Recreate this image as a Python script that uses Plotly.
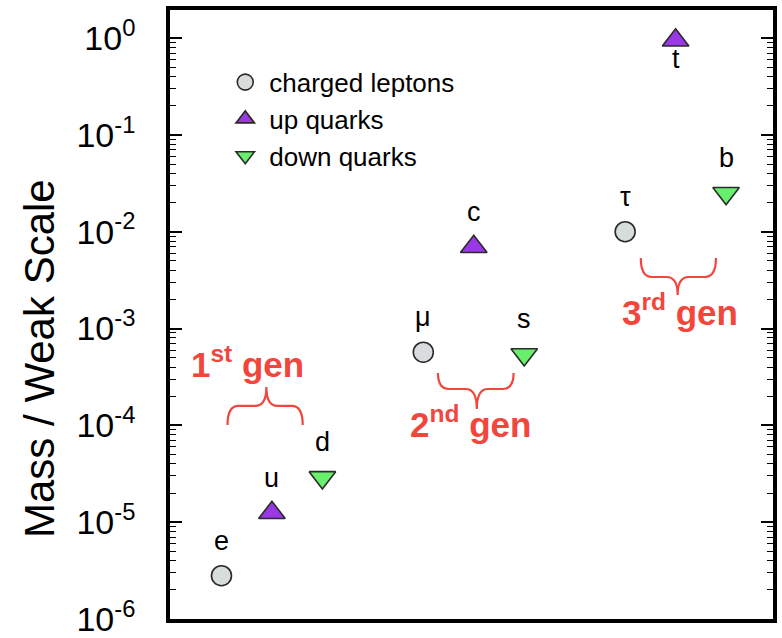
import numpy as np
import plotly.graph_objects as go

# ---------------- data ----------------
series_names = ["charged leptons", "up quarks", "down quarks"]

lepton_x = [1, 5, 9]
lepton_y = [2.8e-6, 5.7e-4, 1.0e-2]
lepton_labels = ["e", "μ", "τ"]

up_x = [2, 6, 10]
up_y = [1.25e-5, 7.0e-3, 0.95]
up_labels = ["u", "c", "t"]

down_x = [3, 7, 11]
down_y = [2.9e-5, 5.4e-4, 2.5e-2]
down_labels = ["d", "s", "b"]

tick_vals = [1e-6, 1e-5, 1e-4, 1e-3, 1e-2, 1e-1, 1e0]
tick_text = ["10<sup>-6</sup>", "10<sup>-5</sup>", "10<sup>-4</sup>", "10<sup>-3</sup>",
             "10<sup>-2</sup>", "10<sup>-1</sup>", "10<sup>0</sup>"]

gen_labels = ["1<sup>st</sup> gen", "2<sup>nd</sup> gen", "3<sup>rd</sup> gen"]
y_title = "Mass / Weak Scale"

# ---------------- style ----------------
FONT = "Liberation Sans, Arial, Helvetica, sans-serif"
RED = "#f2463c"

fig = go.Figure()

styles = [
    dict(symbol="circle", size=20, color="#d9dcdc"),
    dict(symbol="triangle-up", size=23, color="#9b38e6"),
    dict(symbol="triangle-down", size=23, color="#68f06c"),
]
series = [(lepton_x, lepton_y, lepton_labels),
          (up_x, up_y, up_labels),
          (down_x, down_y, down_labels)]

for name, (xs, ys, labs), st in zip(series_names, series, styles):
    fig.add_trace(go.Scatter(
        x=xs, y=ys, mode="markers", name=name,
        marker=dict(symbol=st["symbol"], size=st["size"], color=st["color"],
                    line=dict(color="#2a2a2a", width=1.6)),
        hoverinfo="x+y+name",
    ))

annotations = []
# point labels
for xs, ys, labs in series:
    for x, y, lab in zip(xs, ys, labs):
        below = lab == "t"
        annotations.append(dict(
            x=x, y=np.log10(y), xref="x", yref="y", text=lab, showarrow=False,
            font=dict(family=FONT, size=27, color="black"),
            yanchor="top" if below else "bottom",
            yshift=-2 if below else 18,
        ))

# generation labels (layout positions)
gen_pos = [(1.51, 0.422), (5.94, 0.3235), (10.08, 0.508)]
for text, (gx, gy) in zip(gen_labels, gen_pos):
    annotations.append(dict(
        x=gx, y=gy, xref="x", yref="paper", text=text, showarrow=False,
        font=dict(family=FONT, size=35, color=RED, weight="bold"),
        xanchor="center", yanchor="middle",
    ))

# y axis title
annotations.append(dict(
    x=-0.2156, y=0.4286, xref="paper", yref="paper", text=y_title, showarrow=False,
    textangle=-90, font=dict(family=FONT, size=42, color="black"),
    xanchor="center", yanchor="middle",
))


def brace(x0, x1, xc, y_end, y_flat, y_tip, r=0.22):
    return (f"M {x0},{y_end} Q {x0},{y_flat} {x0 + r},{y_flat} "
            f"L {xc - r},{y_flat} Q {xc},{y_flat} {xc},{y_tip} "
            f"Q {xc},{y_flat} {xc + r},{y_flat} "
            f"L {x1 - r},{y_flat} Q {x1},{y_flat} {x1},{y_end}")


brace_geom = [
    (1.12, 2.61, 1.89, 0.3186, 0.3498, 0.381),
    (5.29, 6.79, 6.06, 0.4039, 0.3777, 0.3448),
    (9.31, 10.80, 10.04, 0.5928, 0.5616, 0.532),
]
shapes = [dict(type="path", xref="x", yref="paper", path=brace(*g),
               line=dict(color=RED, width=2.2)) for g in brace_geom]

fig.update_layout(
    width=782, height=638,
    margin=dict(l=170, r=9, t=10, b=19, autoexpand=False),
    paper_bgcolor="white", plot_bgcolor="white",
    font=dict(family=FONT, color="black"),
    showlegend=True,
    legend=dict(x=0.085, y=0.92, xanchor="left", yanchor="top", itemwidth=38,
                font=dict(family=FONT, size=26, color="black"),
                bgcolor="rgba(0,0,0,0)", borderwidth=0, tracegroupgap=0),
    annotations=annotations,
    shapes=shapes,
)

fig.update_xaxes(range=[-0.02, 11.93], showline=True, linewidth=3.5, linecolor="black",
                 mirror=True, showticklabels=False, ticks="", showgrid=False, zeroline=False,
                 automargin=False)
fig.update_yaxes(type="log", range=[-6, 0.29], showline=True, linewidth=3.5, linecolor="black",
                 mirror="ticks", ticks="inside", ticklen=12, tickwidth=1.8, tickcolor="black",
                 tickvals=tick_vals, ticktext=tick_text, showgrid=False, zeroline=False,
                 automargin=False,
                 tickfont=dict(family=FONT, size=34, color="black"), ticklabelstandoff=24,
                 minor=dict(ticks="inside", ticklen=6, tickwidth=1.2, tickcolor="black",
                            dtick="D1", showgrid=False))

fig.write_html("out.html")
